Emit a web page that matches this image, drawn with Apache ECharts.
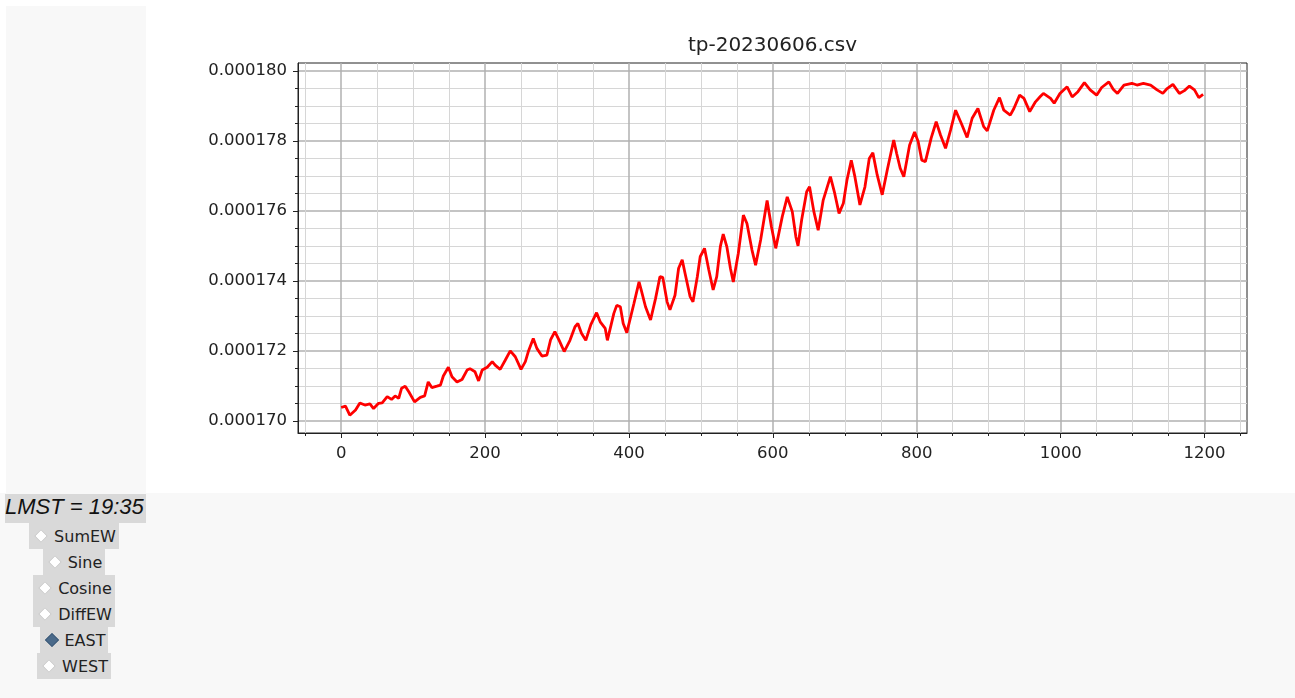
<!DOCTYPE html>
<html>
<head>
<meta charset="utf-8">
<title>tp-20230606</title>
<script src="https://cdn.jsdelivr.net/npm/echarts@6/dist/echarts.min.js"></script>
<style>
  html, body { margin: 0; padding: 0; width: 1295px; height: 698px; overflow: hidden; background: #fff; font-family: "DejaVu Sans", sans-serif; }
  #sidePanel { position: absolute; left: 6px; top: 6px; width: 140px; height: 487px; background: #f8f8f8; }
  #bottomPanel { position: absolute; left: 0; top: 493px; width: 1295px; height: 205px; background: #f8f8f8; }
  #chart { position: absolute; left: 146px; top: 0; width: 1149px; height: 493px; }
  #lmst { position: absolute; left: 5px; top: 494px; width: 141px; height: 29px; line-height: 29px; background: #d9d9d9; color: #111; font: italic 22px "Liberation Sans", Arial, sans-serif; white-space: nowrap; }
  #modes { position: absolute; left: 5px; top: 523px; width: 138px; }
  .mode { display: flex; align-items: center; width: fit-content; height: 26px; margin: 0 auto; padding: 0 3px 0 4px; background: #d9d9d9; color: #222; font-size: 16px; }
  .dot { width: 8px; height: 8px; margin: 0 8px 0 3px; transform: rotate(45deg); background: #fff; border: 1px solid #c4c4c4; }
  .dot.on { background: #4a6a8a; border-color: #3e5b79; }
</style>
</head>
<body>
<div id="sidePanel"></div>
<div id="bottomPanel"></div>
<div id="chart"></div>
<div id="lmst">LMST = 19:35</div>
<div id="modes"></div>
<script>
// sample positions (x) and values in units of 1e-6
var sampleX = [0, 6, 12, 20, 26, 33, 40, 45, 52, 57, 64, 70, 75, 80, 84, 89, 94, 102, 110, 116,
  121, 126, 133, 138, 142, 149, 154, 161, 168, 175, 179, 186, 191, 196, 203, 210, 214, 221, 228, 235,
  242, 250, 256, 260, 267, 272, 279, 286, 291, 297, 303, 310, 318, 325, 329, 334, 340, 347, 355, 360,
  367, 370, 379, 383, 388, 392, 397, 407, 414, 417, 423, 430, 437, 443, 447, 453, 457, 464, 469, 474,
  478, 485, 489, 495, 499, 505, 511, 517, 522, 527, 531, 536, 541, 545, 552, 559, 564, 571, 576, 583,
  592, 598, 604, 613, 620, 627, 632, 635, 640, 647, 651, 657, 663, 670, 680, 686, 692, 698, 703, 709,
  714, 721, 728, 734, 739, 745, 752, 759, 768, 772, 777, 782, 790, 797, 802, 807, 812, 820, 827, 833,
  840, 847, 854, 862, 870, 877, 885, 893, 898, 907, 915, 921, 930, 935, 943, 949, 957, 965, 972, 976,
  986, 991, 999, 1009, 1016, 1024, 1033, 1041, 1050, 1057, 1067, 1073, 1079, 1088, 1099, 1106, 1115, 1125, 1134, 1142,
  1148, 1156, 1165, 1172, 1179, 1186, 1192, 1198]
var valueMicro = [170.38, 170.42, 170.16, 170.31, 170.51, 170.45, 170.48, 170.35, 170.5, 170.51, 170.69, 170.61, 170.71, 170.64, 170.93, 170.99, 170.83, 170.54, 170.67, 170.71,
  171.11, 170.95, 170.99, 171.02, 171.28, 171.53, 171.26, 171.11, 171.18, 171.45, 171.49, 171.4, 171.14, 171.45, 171.53, 171.69, 171.59, 171.47, 171.73, 172.0,
  171.83, 171.47, 171.69, 171.97, 172.35, 172.07, 171.85, 171.88, 172.31, 172.55, 172.3, 171.98, 172.3, 172.69, 172.78, 172.5, 172.3, 172.75, 173.09, 172.83,
  172.64, 172.3, 173.07, 173.3, 173.26, 172.78, 172.52, 173.36, 173.97, 173.74, 173.26, 172.88, 173.5, 174.12, 174.1, 173.4, 173.17, 173.59, 174.36, 174.6,
  174.21, 173.55, 173.4, 174.12, 174.69, 174.93, 174.31, 173.74, 174.12, 174.98, 175.34, 174.98, 174.36, 173.97, 174.79, 175.88, 175.64, 174.88, 174.45, 175.17,
  176.3, 175.55, 174.93, 175.83, 176.4, 175.98, 175.26, 175.0, 175.74, 176.55, 176.69, 175.98, 175.45, 176.31, 176.98, 176.5, 175.93, 176.22, 176.88, 177.45,
  176.98, 176.17, 176.69, 177.5, 177.66, 177.03, 176.46, 177.17, 178.03, 177.65, 177.22, 176.98, 177.88, 178.26, 177.98, 177.45, 177.41, 178.08, 178.55, 178.17,
  177.79, 178.31, 178.88, 178.5, 178.1, 178.65, 178.93, 178.41, 178.29, 178.88, 179.24, 178.88, 178.74, 178.93, 179.31, 179.22, 178.84, 179.12, 179.28, 179.36,
  179.22, 179.08, 179.36, 179.55, 179.26, 179.41, 179.67, 179.46, 179.31, 179.53, 179.69, 179.48, 179.36, 179.6, 179.65, 179.6, 179.65, 179.6, 179.46, 179.36,
  179.5, 179.62, 179.36, 179.44, 179.57, 179.46, 179.24, 179.33]

var xMajorTicks = [0, 200, 400, 600, 800, 1000, 1200]
var xMinorTicks = [-50, 50, 100, 150, 250, 300, 350, 450, 500, 550, 650, 700, 750, 850, 900, 950, 1050, 1100, 1150, 1250]
var yMajorTicks = [170, 172, 174, 176, 178, 180]
var yMinorTicks = [170.5, 171, 171.5, 172.5, 173, 173.5, 174.5, 175, 175.5, 176.5, 177, 177.5, 178.5, 179, 179.5]

var modeNames = ['SumEW', 'Sine', 'Cosine', 'DiffEW', 'EAST', 'WEST']
var selectedMode = 'EAST'

// radio list on the left
var modesEl = document.getElementById('modes')
modeNames.forEach(function (name) {
  var row = document.createElement('div')
  row.className = 'mode'
  var dot = document.createElement('span')
  dot.className = name === selectedMode ? 'dot on' : 'dot'
  var label = document.createElement('span')
  label.textContent = name
  row.appendChild(dot)
  row.appendChild(label)
  modesEl.appendChild(row)
})

var font = 'DejaVu Sans'
var xMin = -60
var xMax = 1259
var yMin = 169.65
var yMax = 180.23

var chart = echarts.init(document.getElementById('chart'))
chart.setOption({
  animation: false,
  backgroundColor: 'transparent',
  title: {
    text: 'tp-20230606.csv',
    left: 626.5,
    top: 36,
    padding: 0,
    textAlign: 'center',
    textStyle: { fontFamily: font, fontSize: 20, fontWeight: 'normal', color: '#222' }
  },
  grid: {
    left: 152, right: 48, top: 63, bottom: 60,
    show: true, borderColor: '#222', borderWidth: 1, backgroundColor: 'transparent',
    containLabel: false, outerBoundsMode: 'none'
  },
  xAxis: [
    {
      // minor grid
      type: 'value', min: xMin, max: xMax, position: 'bottom',
      axisLine: { show: false, onZero: false },
      axisTick: { show: true, length: 3, customValues: xMinorTicks, lineStyle: { color: '#222' } },
      axisLabel: { show: false },
      splitLine: { show: true, lineStyle: { color: '#d6d6d6', width: 1 } }
    },
    {
      type: 'value', min: xMin, max: xMax, position: 'bottom',
      axisLine: { show: true, onZero: false, lineStyle: { color: '#222', width: 1 } },
      axisTick: { show: true, length: 5, customValues: xMajorTicks, lineStyle: { color: '#222' } },
      axisLabel: {
        customValues: xMajorTicks, fontFamily: font, fontSize: 16.5, color: '#222', margin: 12,
        formatter: function (v) { return String(v) }
      },
      splitLine: { show: true, lineStyle: { color: '#b0b0b0', width: 1.5 } }
    }
  ],
  yAxis: [
    {
      type: 'value', min: yMin, max: yMax, position: 'left',
      axisLine: { show: false, onZero: false },
      axisTick: { show: true, length: 3, customValues: yMinorTicks, lineStyle: { color: '#222' } },
      axisLabel: { show: false },
      splitLine: { show: true, lineStyle: { color: '#d6d6d6', width: 1 } }
    },
    {
      type: 'value', min: yMin, max: yMax, position: 'left',
      axisLine: { show: true, onZero: false, lineStyle: { color: '#222', width: 1 } },
      axisTick: { show: true, length: 5, customValues: yMajorTicks, lineStyle: { color: '#222' } },
      axisLabel: {
        customValues: yMajorTicks, fontFamily: font, fontSize: 16.5, color: '#222', margin: 11,
        formatter: function (v) { return (v / 1e6).toFixed(6) }
      },
      splitLine: { show: true, lineStyle: { color: '#b0b0b0', width: 1.5 } }
    }
  ],
  series: [
    {
      type: 'line',
      xAxisIndex: 1,
      yAxisIndex: 1,
      data: sampleX.map(function (x, i) { return [x, valueMicro[i]] }),
      symbol: 'none',
      showSymbol: false,
      smooth: false,
      lineStyle: { color: '#ff0000', width: 2.8 },
      z: 5
    }
  ]
})
</script>
</body>
</html>
